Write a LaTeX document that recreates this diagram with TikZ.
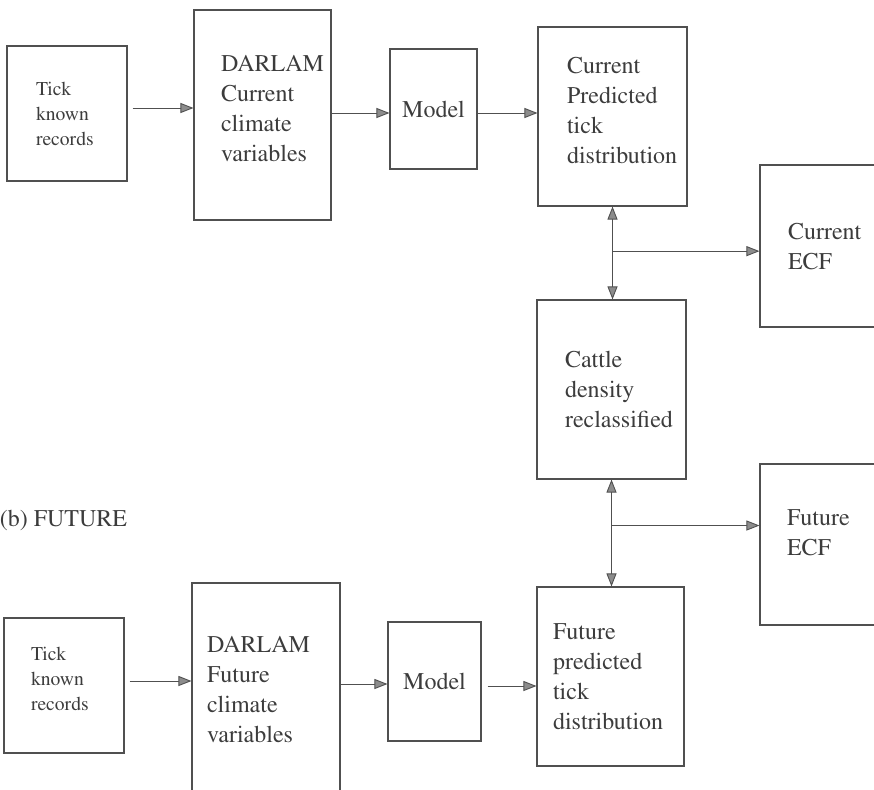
\documentclass[tikz,border=0pt]{standalone}
\usepackage[T1]{fontenc}
\renewcommand{\rmdefault}{ptm}
\usetikzlibrary{positioning, calc, arrows.meta}
\definecolor{edge}{HTML}{505050}
\definecolor{ink}{HTML}{3C3C3C}
\definecolor{tip}{HTML}{8C8C8C}
\hyphenpenalty=10000
\exhyphenpenalty=10000
\newcommand{\boxfont}{\rmfamily\fontsize{24}{30}\selectfont}
\newcommand{\tickfont}{\rmfamily\fontsize{19.6}{25}\selectfont}
\newcommand{\liftup}[1]{\par\vspace*{#1}}

\begin{document}
\begin{tikzpicture}[
    x=1pt, y=-1pt,
    >={Triangle[length=13pt, width=10pt, fill=tip]},
    line width=0.9pt,
    every node/.style={text=ink},
    block/.style={
        draw=edge,
        line width=1.1pt,
        align=left,
        inner sep=0pt,
        font=\boxfont
    },
    records/.style={block, font=\tickfont, minimum width=120pt, minimum height=135pt},
    flow/.style={->, draw=edge}
]
\useasboundingbox (0,0) rectangle (874,789);

\node[records, text width=62pt] (T1) at (67,113.5) {Tick\\known\\records};
\node[block, minimum width=137pt, minimum height=210pt, text width=83pt] (D1) at (262.5,115) {DARLAM\\Current\\climate\\variables\liftup{14pt}};
\node[block, minimum width=87pt, minimum height=120pt, align=center] (M1) at (433.5,109) {Model};
\node[block, minimum width=149pt, minimum height=179pt, text width=91pt] (P1) at (612.5,116.5) {Current\\Predicted\\tick\\distribution\liftup{12pt}};
\node[block, minimum width=124pt, minimum height=162pt, text width=68pt] (E1) at (822,246) {Current\\ECF};
\node[block, minimum width=149pt, minimum height=179pt, text width=93pt] (C) at (611.5,389.5) {Cattle\\density\\reclassified};
\node[block, minimum width=124pt, minimum height=161pt, text width=70pt] (E2) at (822,544.5) {Future\\ECF\liftup{24pt}};

\node[anchor=base west, font=\boxfont] (lblB) at (-4,526) {(b) FUTURE};

\node[records, text width=66pt] (T2) at (64,685.5) {Tick\\known\\records\liftup{14pt}};
\node[block, minimum width=148pt, minimum height=212pt, text width=118pt] (D2) at (266,689) {DARLAM\\Future\\climate\\variables};
\node[block, minimum width=93pt, minimum height=119pt, align=center] (M2) at (434.5,681.5) {Model};
\node[block, minimum width=147pt, minimum height=179pt, text width=115pt] (P2) at (610.5,676.5) {Future\\predicted\\tick\\distribution};

\draw[flow] ($(T1.east)+(5,-5.5)$) -- ($(T1.east -| D1.west)+(0,-5.5)$);
\draw[flow] ($(D1.east)+(0,-2)$) -- ($(D1.east -| M1.west)+(0,-2)$);
\draw[flow] ($(M1.east)+(0,4)$) -- ($(M1.east -| P1.west)+(0,4)$);

\draw[flow] ($(T2.east)+(5,-4.5)$) -- ($(T2.east -| D2.west)+(0,-4.5)$);
\draw[flow] ($(D2.east)+(0,-5)$) -- ($(D2.east -| M2.west)+(0,-5)$);
\draw[flow] ($(M2.east)+(6,4.5)$) -- ($(M2.east -| P2.west)+(0,4.5)$);

\draw[flow, <->] (P1.south) -- (P1.south |- C.north);
\coordinate (J1) at ($(P1.south)!0.48!(P1.south |- C.north)$);
\draw[flow] (J1) -- (J1 -| E1.west);

\draw[flow, <->] (C.south) -- (C.south |- P2.north);
\coordinate (J2) at ($(C.south)!0.43!(C.south |- P2.north)$);
\draw[flow] (J2) -- (J2 -| E2.west);

\end{tikzpicture}
\end{document}
